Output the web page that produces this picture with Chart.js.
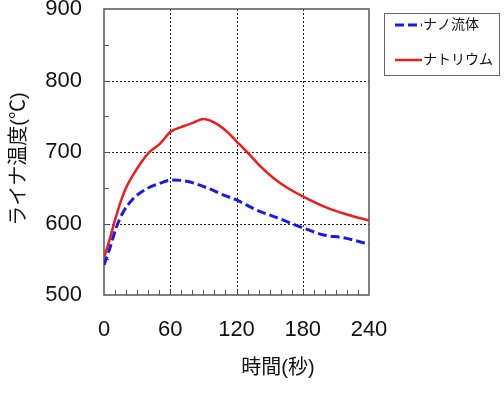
<!DOCTYPE html>
<html>
<head>
<meta charset="utf-8">
<script src="https://cdn.jsdelivr.net/npm/chart.js@4.4.0/dist/chart.umd.min.js"></script>
<style>
  html, body { margin: 0; padding: 0; background: #fff; }
  #wrap { width: 504px; height: 397px; }
</style>
</head>
<body>
<div id="wrap"><canvas id="c" width="504" height="397"></canvas></div>
<script>
// series: nanofluid (blue dashed)
var nanoLabel = "ナノ流体";
var nanoTime = [0, 5, 11, 17, 26, 38, 50, 62, 75, 93, 108, 120, 138, 157, 180, 199, 217, 240];
var nanoTemp = [542, 564, 594, 615, 634, 648, 656, 661, 659, 650, 640, 633, 619, 608, 594, 584, 580, 571];

// series: sodium (red solid)
var naLabel = "ナトリウム";
var naTime = [0, 5, 10, 15, 20, 28, 40, 51, 60, 72, 81, 90, 100, 111, 120, 129, 141, 154, 166, 180, 199, 217, 240];
var naTemp = [552, 577, 605, 630, 650, 672, 698, 712, 728, 736, 741, 746, 741, 729, 715, 701, 681, 663, 650, 638, 624, 614, 604];

var xTicks = [0, 60, 120, 180, 240];
var yTicks = [500, 600, 700, 800, 900];
var xTitle = "時間(秒)";
var yTitle = "ライナ温度(℃)";

function pts(xs, ys) {
    var out = [];
    for (var i = 0; i < xs.length; i++) out.push({ x: xs[i], y: ys[i] });
    return out;
}

var fontFam = '"Liberation Sans", "Noto Sans CJK JP", sans-serif';

var framePlugin = {
    id: 'frame',
    beforeDatasetsDraw: function (chart) {
        var ctx = chart.ctx, a = chart.chartArea;
        var xs = chart.scales.x, ys = chart.scales.y;
        ctx.save();
        // dotted grid
        ctx.strokeStyle = '#222';
        ctx.lineWidth = 1;
        ctx.setLineDash([2, 2]);
        xTicks.slice(1, -1).forEach(function (v) {
            var px = Math.round(xs.getPixelForValue(v)) + 0.5;
            ctx.beginPath(); ctx.moveTo(px, a.top); ctx.lineTo(px, a.bottom); ctx.stroke();
        });
        yTicks.slice(1, -1).forEach(function (v) {
            var py = Math.round(ys.getPixelForValue(v)) + 0.5;
            ctx.beginPath(); ctx.moveTo(a.left, py); ctx.lineTo(a.right, py); ctx.stroke();
        });
        ctx.setLineDash([]);
        // minor ticks inside
        ctx.strokeStyle = '#555';
        for (var t = 10; t < 240; t += 10) {
            var px = Math.round(xs.getPixelForValue(t)) + 0.5;
            ctx.beginPath(); ctx.moveTo(px, a.bottom); ctx.lineTo(px, a.bottom - 5); ctx.stroke();
        }
        for (var v = 550; v < 900; v += 50) {
            var py = Math.round(ys.getPixelForValue(v)) + 0.5;
            ctx.beginPath(); ctx.moveTo(a.left, py); ctx.lineTo(a.left + 5, py); ctx.stroke();
        }
        // frame
        ctx.strokeStyle = '#555';
        ctx.lineWidth = 1.5;
        ctx.strokeRect(a.left, a.top, a.right - a.left, a.bottom - a.top);
        ctx.restore();
    },
    afterDraw: function (chart) {
        var ctx = chart.ctx;
        ctx.save();
        ctx.fillStyle = '#111';
        // axis titles
        ctx.font = '20px ' + fontFam;
        ctx.textAlign = 'center';
        ctx.textBaseline = 'middle';
        ctx.fillText(xTitle, 278, 368);
        ctx.translate(19, 159);
        ctx.rotate(-Math.PI / 2);
        ctx.fillText(yTitle, 0, 0);
        ctx.restore();

        // legend box
        ctx.save();
        ctx.strokeStyle = '#666';
        ctx.lineWidth = 1;
        ctx.strokeRect(384.5, 13.5, 115, 62);
        var items = chart.data.datasets;
        var rows = [25, 60];
        ctx.font = '14px ' + fontFam;
        ctx.textBaseline = 'middle';
        ctx.textAlign = 'left';
        items.forEach(function (ds, i) {
            ctx.strokeStyle = ds.borderColor;
            ctx.lineWidth = ds.borderWidth;
            ctx.setLineDash(ds.borderDash || []);
            ctx.beginPath(); ctx.moveTo(395, rows[i]); ctx.lineTo(422, rows[i]); ctx.stroke();
            ctx.setLineDash([]);
            ctx.fillStyle = '#111';
            ctx.fillText(ds.label, 423, rows[i]);
        });
        ctx.restore();
    }
};

new Chart(document.getElementById('c'), {
    type: 'line',
    data: {
        datasets: [
            {
                label: nanoLabel,
                data: pts(nanoTime, nanoTemp),
                borderColor: '#1a1ae6',
                borderWidth: 3,
                borderDash: [9, 4],
                pointRadius: 0,
                cubicInterpolationMode: 'monotone',
                fill: false
            },
            {
                label: naLabel,
                data: pts(naTime, naTemp),
                borderColor: '#ee1c1c',
                borderWidth: 2.5,
                pointRadius: 0,
                cubicInterpolationMode: 'monotone',
                fill: false
            }
        ]
    },
    options: {
        responsive: false,
        animation: false,
        layout: { padding: { left: 0, top: 9, right: 135, bottom: 0 } },
        plugins: { legend: { display: false }, tooltip: { enabled: false } },
        scales: {
            x: {
                type: 'linear',
                min: 0, max: 240,
                afterBuildTicks: function (s) { s.ticks = xTicks.map(function (v) { return { value: v }; }); },
                afterFit: function (s) { s.height = 102; s.paddingLeft = 0; s.paddingRight = 0; },
                grid: { display: false },
                border: { display: false },
                ticks: { color: '#111', padding: 14, maxRotation: 0, font: { size: 22, family: fontFam } }
            },
            y: {
                min: 500, max: 900,
                afterBuildTicks: function (s) { s.ticks = yTicks.map(function (v) { return { value: v }; }); },
                afterFit: function (s) { s.width = 104; s.paddingTop = 0; s.paddingBottom = 0; },
                grid: { display: false },
                border: { display: false },
                ticks: { color: '#111', padding: 14, font: { size: 22, family: fontFam } }
            }
        }
    },
    plugins: [framePlugin]
});
</script>
</body>
</html>
